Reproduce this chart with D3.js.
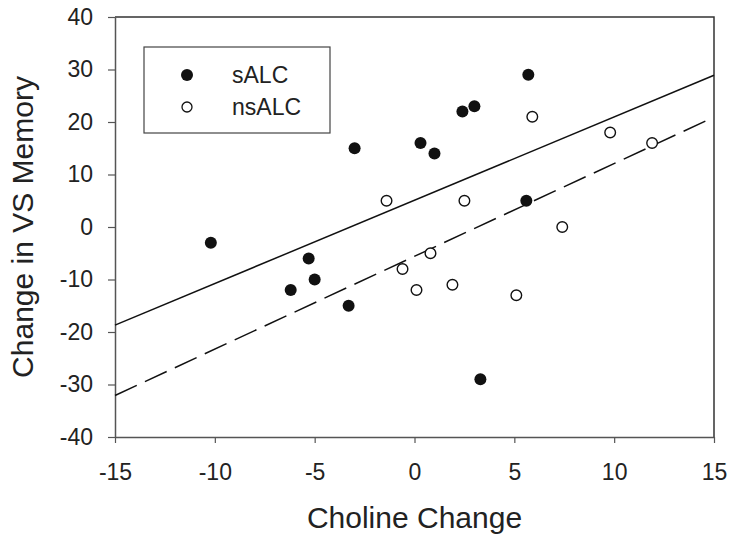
<!DOCTYPE html>
<html>
<head>
<meta charset="utf-8">
<script src="https://cdn.jsdelivr.net/npm/d3@7"></script>
<style>
  body { margin: 0; background: #fff; }
  svg { display: block; font-family: Arial, "Liberation Sans", sans-serif; }
</style>
</head>
<body>
<div id="chart"></div>
<script>
// data
var sALC = [
  [-10.2, -3], [-5.3, -6], [-5.0, -10], [-6.2, -12], [-3.3, -15],
  [-3.0, 15], [0.3, 16], [1.0, 14], [2.4, 22], [3.0, 23],
  [5.7, 29], [5.6, 5], [3.3, -29]
];
var nsALC = [
  [-1.4, 5], [-0.6, -8], [0.1, -12], [0.8, -5], [1.9, -11],
  [5.1, -13], [7.4, 0], [2.5, 5], [5.9, 21], [9.8, 18], [11.9, 16]
];
// fitted lines (end points)
var sALCFit = [[-15, -18.7], [15, 28.9]];
var nsALCFit = [[-15, -32.1], [14.7, 20.4]];

var xTicks = [-15, -10, -5, 0, 5, 10, 15];
var yTicks = [-40, -30, -20, -10, 0, 10, 20, 30, 40];
var legendNames = ["sALC", "nsALC"];

var W = 733, H = 542;
var margin = { top: 17, right: 19, bottom: 105, left: 115 };
var width = W - margin.left - margin.right,
    height = H - margin.top - margin.bottom;

var svg = d3.select("#chart").append("svg")
  .attr("width", W)
  .attr("height", H);

var g = svg.append("g")
  .attr("transform", "translate(" + margin.left + "," + margin.top + ")");

var x = d3.scaleLinear().domain([-15, 15]).range([0, width]);
var y = d3.scaleLinear().domain([-40, 40]).range([height, 0]);

// plain hyphen for negatives, like the original
var fmt = function(d) { return String(d); };

// frame (top and right)
g.append("path")
  .attr("d", "M0,0H" + width + "V" + height)
  .attr("fill", "none")
  .attr("stroke", "#333")
  .attr("stroke-width", 1.5);

// axes
var xAxis = g.append("g")
  .attr("transform", "translate(0," + height + ")")
  .call(d3.axisBottom(x).tickValues(xTicks).tickFormat(fmt)
    .tickSize(6).tickSizeOuter(0).tickPadding(21));
var yAxis = g.append("g")
  .call(d3.axisLeft(y).tickValues(yTicks).tickFormat(fmt)
    .tickSize(7).tickSizeOuter(0).tickPadding(15));

[xAxis, yAxis].forEach(function(a) {
  a.select(".domain").attr("stroke", "#555").attr("stroke-width", 1.5);
  a.selectAll(".tick line").attr("stroke", "#555").attr("stroke-width", 1.2);
  a.selectAll(".tick text")
    .attr("fill", "#222")
    .style("font-size", "23px")
    .style("font-family", "Arial, 'Liberation Sans', sans-serif");
});

// fit lines
var line = d3.line()
  .x(function(d) { return x(d[0]); })
  .y(function(d) { return y(d[1]); });

g.append("path")
  .datum(sALCFit)
  .attr("d", line)
  .attr("fill", "none")
  .attr("stroke", "#111")
  .attr("stroke-width", 1.5);

g.append("path")
  .datum(nsALCFit)
  .attr("d", line)
  .attr("fill", "none")
  .attr("stroke", "#111")
  .attr("stroke-width", 1.5)
  .attr("stroke-dasharray", "24,9");

// points
g.selectAll(".ns")
  .data(nsALC)
  .enter().append("circle")
  .attr("class", "ns")
  .attr("cx", function(d) { return x(d[0]); })
  .attr("cy", function(d) { return y(d[1]); })
  .attr("r", 5.3)
  .attr("fill", "#fff")
  .attr("stroke", "#111")
  .attr("stroke-width", 1.4);

g.selectAll(".s")
  .data(sALC)
  .enter().append("circle")
  .attr("class", "s")
  .attr("cx", function(d) { return x(d[0]); })
  .attr("cy", function(d) { return y(d[1]); })
  .attr("r", 6)
  .attr("fill", "#111");

// legend
var legend = svg.append("g").attr("transform", "translate(144,47)");
legend.append("rect")
  .attr("width", 186)
  .attr("height", 86)
  .attr("fill", "#fff")
  .attr("stroke", "#444")
  .attr("stroke-width", 1.2);

legendNames.forEach(function(name, i) {
  var row = legend.append("g").attr("transform", "translate(0," + (28 + i * 32) + ")");
  if (i === 0) {
    row.append("circle").attr("cx", 43).attr("cy", 0).attr("r", 6).attr("fill", "#111");
  } else {
    row.append("circle").attr("cx", 43).attr("cy", 0).attr("r", 5)
      .attr("fill", "#fff").attr("stroke", "#111").attr("stroke-width", 1.3);
  }
  row.append("text")
    .attr("x", 88)
    .attr("y", 8)
    .attr("fill", "#222")
    .style("font-size", "23px")
    .text(name);
});

// axis titles
svg.append("text")
  .attr("x", margin.left + width / 2)
  .attr("y", 528)
  .attr("text-anchor", "middle")
  .attr("fill", "#222")
  .style("font-size", "30px")
  .text("Choline Change");

svg.append("text")
  .attr("transform", "translate(33," + (margin.top + height / 2) + ") rotate(-90)")
  .attr("text-anchor", "middle")
  .attr("fill", "#222")
  .style("font-size", "30px")
  .text("Change in VS Memory");
</script>
</body>
</html>
